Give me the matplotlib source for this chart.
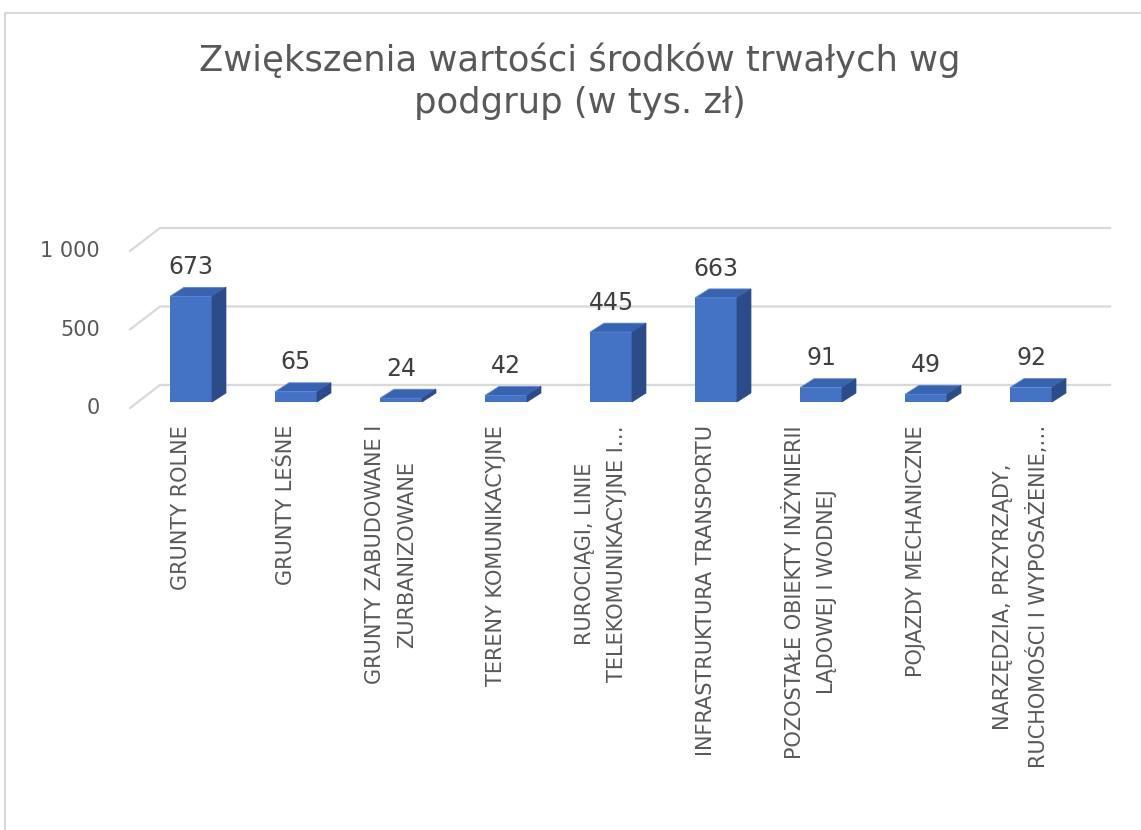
import matplotlib.pyplot as plt
from matplotlib.patches import Polygon, Rectangle

# dane
categories = [
    'GRUNTY ROLNE',
    'GRUNTY LEŚNE',
    'GRUNTY ZABUDOWANE I\nZURBANIZOWANE',
    'TERENY KOMUNIKACYJNE',
    'RUROCIĄGI, LINIE\nTELEKOMUNIKACYJNE I…',
    'INFRASTRUKTURA TRANSPORTU',
    'POZOSTAŁE OBIEKTY INŻYNIERII\nLĄDOWEJ I WODNEJ',
    'POJAZDY MECHANICZNE',
    'NARZĘDZIA, PRZYRZĄDY,\nRUCHOMOŚCI I WYPOSAŻENIE,…',
]
values = [673, 65, 24, 42, 445, 663, 91, 49, 92]
y_ticks = [0, 500, 1000]
y_tick_labels = ['0', '500', '1 000']
title = 'Zwiększenia wartości środków trwałych wg\npodgrup (w tys. zł)'

W, H = 1141, 830
fig = plt.figure(figsize=(W / 100, H / 100), dpi=100)
fig.patch.set_facecolor('white')

# skala w pikselach
px_cat = 105      # odstep miedzy slupkami
x0_px = 191       # srodek pierwszego slupka
px_unit = 0.157   # piksele na jednostke
base_px = 402     # podstawa slupkow (od gory)
xlim = (-1.5, 9.0)
ylim = (-300, 1300)
left_px = x0_px + xlim[0] * px_cat
width_px = (xlim[1] - xlim[0]) * px_cat
top_px = base_px - ylim[1] * px_unit
bottom_px = base_px - ylim[0] * px_unit
ax = fig.add_axes([left_px / W, 1 - bottom_px / H, width_px / W, (bottom_px - top_px) / H])
ax.set_xlim(*xlim)
ax.set_ylim(*ylim)
ax.axis('off')

# glebokosc 3D
dx = 14 / px_cat
dy = 9 / px_unit
bar_w = 42 / px_cat

grid_c = '#D9D9D9'
front_x, front_y = (130 - x0_px) / px_cat, (base_px - 408) / px_unit
back_x, back_y = (160 - x0_px) / px_cat, (base_px - 385) / px_unit
right_x = (1110 - x0_px) / px_cat

for v, lab in zip(y_ticks, y_tick_labels):
    ax.plot([front_x, back_x, right_x], [v + front_y, v + back_y, v + back_y],
            color=grid_c, lw=1.6, zorder=1, clip_on=False)
    ax.text((100 - x0_px) / px_cat, v + front_y, lab, ha='right', va='center',
            fontsize=15, color='#595959')

front_c = '#4472C4'
top_c = '#3763B0'
side_c = '#2B4C88'

x = list(range(len(values)))
ax.bar(x, values, width=bar_w, color=front_c, zorder=3)
for xi, v in zip(x, values):
    l, r = xi - bar_w / 2, xi + bar_w / 2
    ax.add_patch(Polygon([(l, v), (r, v), (r + dx, v + dy), (l + dx, v + dy)],
                         closed=True, fc=top_c, ec='#5B8BD8', lw=0.6, zorder=3))
    ax.add_patch(Polygon([(r, 0), (r + dx, dy), (r + dx, v + dy), (r, v)],
                         closed=True, fc=side_c, ec=side_c, lw=0.5, zorder=3))
    ax.annotate(str(v), (xi, v + dy), xytext=(0, 6), textcoords='offset points',
                ha='center', va='bottom', fontsize=17, color='#404040')

# etykiety kategorii
label_y = (base_px - 425) / px_unit
for xi, cat in zip(x, categories):
    ax.text(xi - 10 / px_cat, label_y, cat, rotation=90, ha='center', va='top',
            multialignment='center', linespacing=1.8, fontsize=15, color='#595959')

# ramka wykresu
fig.add_artist(Rectangle((5 / W, -0.1), 1.2, (H - 13) / H + 0.1, transform=fig.transFigure,
                         fill=False, ec='#D9D9D9', lw=1.5))

fig.text(580 / W, 1 - 81 / H, title, ha='center', va='center', fontsize=25.5,
         color='#595959', linespacing=1.3)

fig.savefig('out.png', dpi=100)
